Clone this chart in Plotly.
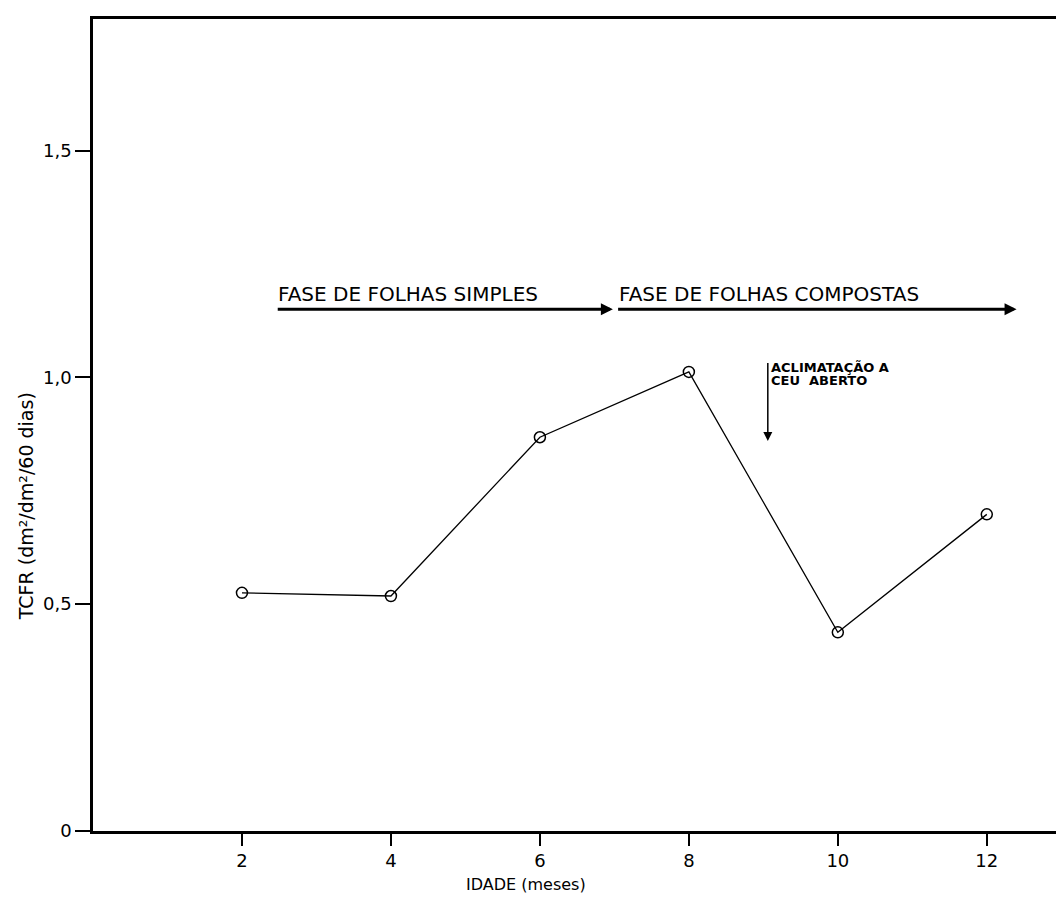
import plotly.graph_objects as go

# Data
idade = [2, 4, 6, 8, 10, 12]
tcfr = [0.525, 0.518, 0.868, 1.012, 0.438, 0.698]

x_ticks = [2, 4, 6, 8, 10, 12]
x_tick_labels = ["2", "4", "6", "8", "10", "12"]
y_ticks = [0, 0.5, 1.0, 1.5]
y_tick_labels = ["0", "0,5", "1,0", "1,5"]

phase_labels = ["FASE DE FOLHAS SIMPLES", "FASE DE FOLHAS COMPOSTAS"]
phase_start = [2.46, 7.03]
phase_end = [6.98, 12.4]
phase_y = 1.15

acclim_x = 9.06
acclim_top = 1.035
acclim_bottom = 0.86
acclim_lines = ["ACLIMATAÇÃO A", "CEU  ABERTO"]

FONT = "DejaVu Sans"

fig = go.Figure()
fig.add_trace(go.Scatter(
    x=idade, y=tcfr, mode="lines+markers",
    line=dict(color="black", width=1.3),
    marker=dict(symbol="circle-open", size=11, color="black", line=dict(width=1.5)),
    showlegend=False, hoverinfo="skip",
))

annotations = []
for lab, xs, xe in zip(phase_labels, phase_start, phase_end):
    annotations.append(dict(
        x=xe, y=phase_y, ax=xs, ay=phase_y, xref="x", yref="y", axref="x", ayref="y",
        text="", showarrow=True, arrowhead=2, arrowsize=0.8, arrowwidth=3, arrowcolor="black",
    ))
    annotations.append(dict(
        x=xs, y=phase_y + 0.004, xref="x", yref="y", text=lab, showarrow=False,
        xanchor="left", yanchor="bottom", font=dict(family=FONT, size=20, color="black"),
    ))

annotations.append(dict(
    x=acclim_x, y=acclim_bottom, ax=acclim_x, ay=acclim_top, xref="x", yref="y",
    axref="x", ayref="y", text="", showarrow=True, arrowhead=2, arrowsize=1.2,
    arrowwidth=1.5, arrowcolor="black",
))
for i, line in enumerate(acclim_lines):
    annotations.append(dict(
        x=acclim_x + 0.02, y=acclim_top, xref="x", yref="y", yshift=-13 * i + 3,
        text="<b>" + line + "</b>", showarrow=False, xanchor="left", yanchor="top",
        font=dict(family=FONT, size=13, color="black"),
    ))

annotations.append(dict(
    x=0, y=0.40, xref="paper", yref="paper", xshift=-80, text="TCFR (dm²/dm²/60 dias)",
    textangle=-90, showarrow=False, font=dict(family=FONT, size=19, color="black"),
))
annotations.append(dict(
    x=0.445, y=0, xref="paper", yref="paper", yshift=-53, yanchor="middle",
    text="IDADE (meses)", showarrow=False, font=dict(family=FONT, size=16, color="black"),
))

fig.update_layout(
    width=1057, height=890,
    margin=dict(l=85, r=0, t=11, b=67),
    paper_bgcolor="white", plot_bgcolor="white",
    annotations=annotations,
    font=dict(family=FONT, size=18, color="black"),
    xaxis=dict(
        range=[0, 13.05], tickvals=x_ticks, ticktext=x_tick_labels,
        showgrid=False, zeroline=False, showline=True, linecolor="black", linewidth=2.5,
        mirror=True, ticks="outside", ticklen=12, tickwidth=2, tickcolor="black",
        tickfont=dict(family=FONT, size=18, color="black"),
    ),
    yaxis=dict(
        range=[0, 1.79], tickvals=y_ticks, ticktext=y_tick_labels,
        showgrid=False, zeroline=False, showline=True, linecolor="black", linewidth=2.5,
        ticks="outside", ticklen=15, tickwidth=2, tickcolor="black",
        tickfont=dict(family=FONT, size=18, color="black"),
    ),
)

fig.write_html("out.html")
